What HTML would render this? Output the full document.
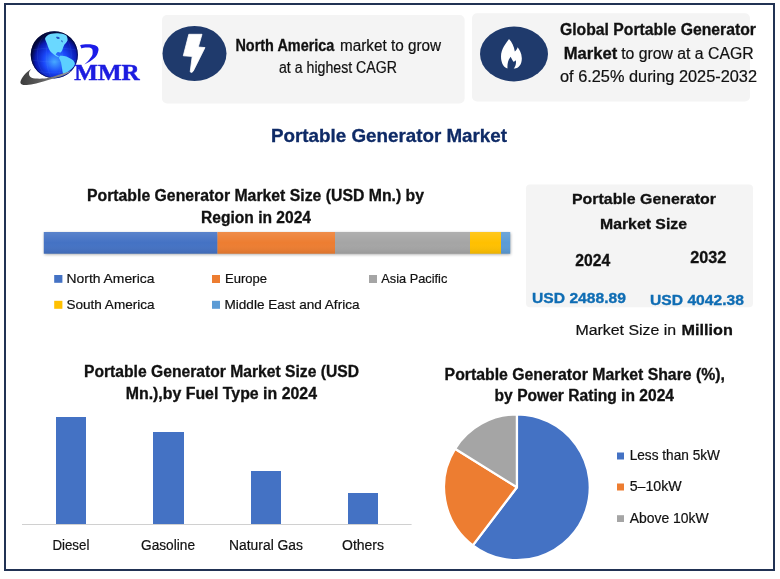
<!DOCTYPE html>
<html><head><meta charset="utf-8">
<style>
html,body{margin:0;padding:0;background:#fff;width:780px;height:579px;overflow:hidden}
svg{display:block;will-change:transform}
text{font-family:"Liberation Sans",sans-serif}
.b{font-weight:bold}
</style></head>
<body>
<svg width="780" height="579" viewBox="0 0 780 579">
<defs>
<radialGradient id="globe" cx="0.55" cy="0.6" r="0.55" fx="0.5" fy="0.65">
<stop offset="0" stop-color="#45a8ff"/>
<stop offset="0.45" stop-color="#1a48fa"/>
<stop offset="0.8" stop-color="#0a1ab0"/>
<stop offset="1" stop-color="#01063a"/>
</radialGradient>
<linearGradient id="swoosh" x1="0" y1="0" x2="1" y2="0">
<stop offset="0" stop-color="#3c3c3c"/>
<stop offset="0.4" stop-color="#5e5e5e"/>
<stop offset="1" stop-color="#a0a0a8"/>
</linearGradient>
<filter id="blur" x="-5%" y="-50%" width="110%" height="200%"><feGaussianBlur stdDeviation="1.5"/></filter>
<linearGradient id="barsheen" x1="0" y1="0" x2="0" y2="1">
<stop offset="0" stop-color="#fff" stop-opacity="0.12"/>
<stop offset="0.5" stop-color="#fff" stop-opacity="0"/>
<stop offset="1" stop-color="#000" stop-opacity="0.08"/>
</linearGradient>
</defs>
<rect x="0" y="0" width="780" height="579" fill="#fff"/>
<!-- outer border -->
<rect x="5" y="4" width="769" height="566" fill="none" stroke="#213254" stroke-width="2"/>

<!-- logo -->
<g>
<circle cx="54.3" cy="54.8" r="23.6" fill="url(#globe)"/>
<g fill="none" stroke="#7ab8ff" stroke-width="0.5" opacity="0.18">
<ellipse cx="54.3" cy="54.8" rx="8" ry="23.4"/>
<ellipse cx="54.3" cy="54.8" rx="17" ry="23.4"/>
<path d="M31.5 50 Q54.3 46 77 50 M31 60 Q54.3 64 77.5 60 M34 70 Q54.3 76 74.5 70"/>
</g>
<circle cx="54.3" cy="54.8" r="23.1" fill="none" stroke="#020838" stroke-width="1" opacity="0.6"/>
<path d="M45 38.7 C 45.5 36.5, 47.5 34.8, 50.3 33.9 C 53.5 33, 57 33, 60 33.4 C 63 33.8, 65.5 34.5, 66.4 35.5 C 67.6 37.5, 67.8 39.5, 67.4 40.8 C 66.5 42.8, 65 43.8, 64.2 45.1 C 63.2 47, 62.8 49, 62.1 50.5 C 61.5 51.8, 60.8 52.6, 60 52.6 C 59 52.4, 58.4 52, 57.8 52.1 C 57 52.6, 56.2 53.6, 55.7 54.8 C 57 55.5, 58.8 56.5, 60 57.4 C 57.5 57, 55 55.8, 53.5 54.2 C 51.5 52.6, 50 51, 49.2 49.4 C 48.2 47.5, 47.6 45.8, 47.1 44 C 46.4 42, 45.4 40.5, 45 38.7 Z" fill="#6ad8ff"/>
<path d="M56 37 C 57.5 36.5, 59 37, 60 38 C 59 39.5, 57 39.5, 56 37 Z M 61.5 40 C 62.5 40.5, 63 41.5, 62.5 42.5 C 61.5 42, 61 41, 61.5 40 Z" fill="#1030b0" opacity="0.8"/>
<path d="M60 55.8 C 62 55.6, 64.5 55.8, 66.4 56.4 C 68.8 57.4, 71 58.6, 72.8 60.1 C 74 61.3, 75 62.8, 74.9 64.4 C 74.3 66, 73 67.4, 71.7 68.7 C 70.2 70, 68.8 71, 67.4 71.9 C 66 72.8, 64.5 73.6, 63.2 74 C 62.6 72.3, 62.3 70.5, 62.1 68.7 C 61.8 66.5, 61.5 64.3, 61 62.2 C 60.5 60.8, 59.6 59.4, 58.9 58 C 59.2 57.2, 59.5 56.4, 60 55.8 Z" fill="#5cd0ff"/>
<path d="M20.4 82 C 21.5 78, 26 72, 31.25 69.1 C 28.5 72, 28 76, 31.7 77.8 C 35 79, 44 79, 48.3 77.8 C 55 76.5, 64 73, 72.5 70.5 C 66 75, 58 77.5, 44.2 81.2 C 36 83.5, 28 85.5, 23.3 85 C 21.5 84.6, 20.2 83.5, 20.4 82 Z" fill="url(#swoosh)"/>
<path d="M80.1 45.2 C 84 43.8, 93 43.5, 96.9 46.2 C 98.5 47.5, 98.8 49.5, 98.4 50.5 C 97.8 54, 96.5 56, 95 57.5 C 92 60.5, 88 62.8, 84.4 64.4 C 87 62, 89 60, 90.2 58.2 C 91.8 56.5, 92.6 55, 92.6 53.4 C 92.8 51.5, 92.6 50, 92.1 49 C 91 48, 89.5 47.6, 88.3 47.6 C 85.5 47.4, 83 47.8, 81.5 48.6 Z" fill="#1c1ce8"/>
<text x="74.3" y="80.3" font-weight="bold" font-size="22.9" fill="#1c1ce0" stroke="#1c1ce0" stroke-width="0.5" textLength="65.4" lengthAdjust="spacingAndGlyphs" style="font-family:'Liberation Serif',serif">MMR</text>
</g>

<!-- card 1 -->
<rect x="162" y="15" width="302.6" height="88.5" rx="5" fill="#f4f4f4"/>
<ellipse cx="194.5" cy="53.5" rx="32" ry="27.5" fill="#1f3a6c"/>
<path d="M188.8 34.3 L202 34.3 L198.3 47 L205 47.6 L193.2 71.2 Q191.5 73.5 190.2 71.8 L192.2 56.4 L183.3 55.8 Z" fill="#fff" stroke="#fff" stroke-width="0.8" stroke-linejoin="round"/>
<text x="235.4" y="50.8" font-size="15.8" fill="#111" class="b" stroke="#111" stroke-width="0.3" textLength="99" lengthAdjust="spacingAndGlyphs">North America</text>
<text stroke="#111" stroke-width="0.2" x="340" y="50.8" font-size="15.8" fill="#111" textLength="101" lengthAdjust="spacingAndGlyphs">market to grow</text>
<text stroke="#111" stroke-width="0.2" x="279" y="72.7" font-size="15.8" fill="#111" textLength="118" lengthAdjust="spacingAndGlyphs">at a highest CAGR</text>

<!-- card 2 -->
<rect x="472" y="13.3" width="278" height="88.2" rx="5" fill="#f4f4f4"/>
<ellipse cx="514" cy="54" rx="34" ry="27.4" fill="#1f3a6c"/>
<path d="M509 38.9 C 506 43, 501 49, 501 56.5 C 501 63, 504 68.4, 508.5 68.6 L 514.5 68.6 C 519 68.4, 522 64, 521.8 58 C 521.6 53, 519.5 50, 517.6 47.3 C 517 49.5, 516 50.5, 514.8 51.5 C 514 46, 512 42, 509 38.9 Z" fill="#fff"/>
<path d="M507.6 69 C 507 65, 508 60, 510.6 56.8 C 511.6 58.8, 512.6 60.4, 513.4 61.8 C 514.4 61.5, 515.2 61, 515.8 60.3 C 516.4 63.5, 515.6 66.5, 513.6 69 Z" fill="#1f3a6c"/>
<text x="560" y="35" font-size="15.8" fill="#111" class="b" stroke="#111" stroke-width="0.3" textLength="196" lengthAdjust="spacingAndGlyphs">Global Portable Generator</text>
<text x="563.8" y="58.8" font-size="15.8" fill="#111" class="b" stroke="#111" stroke-width="0.3" textLength="53.5" lengthAdjust="spacingAndGlyphs">Market</text>
<text stroke="#111" stroke-width="0.2" x="621.2" y="58.8" font-size="15.8" fill="#111" textLength="132.4" lengthAdjust="spacingAndGlyphs">to grow at a CAGR</text>
<text stroke="#111" stroke-width="0.2" x="560" y="82" font-size="15.8" fill="#111" textLength="197" lengthAdjust="spacingAndGlyphs">of 6.25% during 2025-2032</text>

<!-- main title -->
<text x="271" y="141.7" font-size="18.5" fill="#0e2a66" class="b" stroke="#0e2a66" stroke-width="0.3" textLength="236" lengthAdjust="spacingAndGlyphs">Portable Generator Market</text>

<!-- chart 1 -->
<text x="87" y="200.8" font-size="15.6" fill="#111" class="b" stroke="#111" stroke-width="0.3" textLength="337" lengthAdjust="spacingAndGlyphs">Portable Generator Market Size (USD Mn.) by</text>
<text x="201" y="223" font-size="15.6" fill="#111" class="b" stroke="#111" stroke-width="0.3" textLength="110" lengthAdjust="spacingAndGlyphs">Region in 2024</text>
<rect x="44.5" y="233" width="466" height="21.5" fill="#000" opacity="0.35" filter="url(#blur)"/>
<rect x="43.8" y="232" width="173.7" height="21.7" fill="#4472c4"/>
<rect x="217.5" y="232" width="117.5" height="21.7" fill="#ed7d31"/>
<rect x="335" y="232" width="135" height="21.7" fill="#a5a5a5"/>
<rect x="470" y="232" width="31" height="21.7" fill="#ffc000"/>
<rect x="501" y="232" width="9.2" height="21.7" fill="#5b9bd5"/>
<rect x="43.8" y="232" width="466.4" height="21.7" fill="url(#barsheen)"/>
<rect x="54.2" y="275" width="8.2" height="7.8" fill="#4472c4"/>
<text stroke="#111" stroke-width="0.2" x="66.5" y="282.8" font-size="13" fill="#111" textLength="88" lengthAdjust="spacingAndGlyphs">North America</text>
<rect x="212" y="275" width="8" height="8" fill="#ed7d31"/>
<text stroke="#111" stroke-width="0.2" x="225" y="283" font-size="13" fill="#111" textLength="42" lengthAdjust="spacingAndGlyphs">Europe</text>
<rect x="369" y="275" width="8" height="8" fill="#a5a5a5"/>
<text stroke="#111" stroke-width="0.2" x="381.3" y="283" font-size="13" fill="#111" textLength="66" lengthAdjust="spacingAndGlyphs">Asia Pacific</text>
<rect x="54.2" y="300.8" width="8.2" height="8" fill="#ffc000"/>
<text stroke="#111" stroke-width="0.2" x="66.5" y="308.9" font-size="13" fill="#111" textLength="88" lengthAdjust="spacingAndGlyphs">South America</text>
<rect x="212" y="300.8" width="8" height="8" fill="#5b9bd5"/>
<text stroke="#111" stroke-width="0.2" x="224.5" y="308.9" font-size="13" fill="#111" textLength="135" lengthAdjust="spacingAndGlyphs">Middle East and Africa</text>

<!-- market size card -->
<rect x="526" y="184.6" width="227" height="122.7" rx="4" fill="#f4f4f4"/>
<text x="572" y="204" font-size="15.5" fill="#111" class="b" stroke="#111" stroke-width="0.3" textLength="144" lengthAdjust="spacingAndGlyphs">Portable Generator</text>
<text x="600" y="229" font-size="15.5" fill="#111" class="b" stroke="#111" stroke-width="0.3" textLength="87" lengthAdjust="spacingAndGlyphs">Market Size</text>
<text x="575.2" y="265.7" font-size="16.2" fill="#111" class="b" stroke="#111" stroke-width="0.3" textLength="35" lengthAdjust="spacingAndGlyphs">2024</text>
<text x="690.2" y="262.7" font-size="16.2" fill="#111" class="b" stroke="#111" stroke-width="0.3" textLength="36" lengthAdjust="spacingAndGlyphs">2032</text>
<text x="532" y="303.3" font-size="15.5" fill="#0f6db4" stroke="#0f6db4" stroke-width="0.35" class="b" textLength="94" lengthAdjust="spacingAndGlyphs">USD 2488.89</text>
<text x="650" y="304.5" font-size="15.5" fill="#0f6db4" stroke="#0f6db4" stroke-width="0.35" class="b" textLength="94" lengthAdjust="spacingAndGlyphs">USD 4042.38</text>
<text stroke="#111" stroke-width="0.2" x="575.4" y="334.7" font-size="15.5" fill="#111" textLength="100.8" lengthAdjust="spacingAndGlyphs">Market Size in</text>
<text x="681.5" y="334.7" font-size="15.5" fill="#111" class="b" stroke="#111" stroke-width="0.3" textLength="51.3" lengthAdjust="spacingAndGlyphs">Million</text>

<!-- fuel chart -->
<text x="84" y="377.1" font-size="15.6" fill="#111" class="b" stroke="#111" stroke-width="0.3" textLength="275" lengthAdjust="spacingAndGlyphs">Portable Generator Market Size (USD</text>
<text x="125.7" y="399.1" font-size="15.6" fill="#111" class="b" stroke="#111" stroke-width="0.3" textLength="191.3" lengthAdjust="spacingAndGlyphs">Mn.),by Fuel Type in 2024</text>
<line x1="22" y1="524.5" x2="411.6" y2="524.5" stroke="#d0d0d0" stroke-width="1"/>
<rect x="56" y="417" width="30" height="107" fill="#4472c4"/>
<rect x="153" y="432" width="31" height="92" fill="#4472c4"/>
<rect x="251" y="471" width="30" height="53" fill="#4472c4"/>
<rect x="348" y="493" width="30" height="31" fill="#4472c4"/>
<text stroke="#111" stroke-width="0.2" x="52.4" y="550" font-size="14" fill="#111" textLength="37" lengthAdjust="spacingAndGlyphs">Diesel</text>
<text stroke="#111" stroke-width="0.2" x="141" y="550" font-size="14" fill="#111" textLength="54" lengthAdjust="spacingAndGlyphs">Gasoline</text>
<text stroke="#111" stroke-width="0.2" x="229" y="550" font-size="14" fill="#111" textLength="74" lengthAdjust="spacingAndGlyphs">Natural Gas</text>
<text stroke="#111" stroke-width="0.2" x="342" y="550" font-size="14" fill="#111" textLength="42" lengthAdjust="spacingAndGlyphs">Others</text>

<!-- pie chart -->
<text x="444.6" y="380" font-size="15.6" fill="#111" class="b" stroke="#111" stroke-width="0.3" textLength="280.4" lengthAdjust="spacingAndGlyphs">Portable Generator Market Share (%),</text>
<text x="494.6" y="401" font-size="15.6" fill="#111" class="b" stroke="#111" stroke-width="0.3" textLength="179.4" lengthAdjust="spacingAndGlyphs">by Power Rating in 2024</text>
<g stroke="#fff" stroke-width="2.3" stroke-linejoin="round">
<path id="pblue" d="M516.9 487.3 L516.90 414.40 A72.9 72.9 0 1 1 472.82 545.37 Z" fill="#4472c4"/>
<path id="porange" d="M516.9 487.3 L472.82 545.37 A72.9 72.9 0 0 1 455.01 448.78 Z" fill="#ed7d31"/>
<path id="pgray" d="M516.9 487.3 L455.01 448.78 A72.9 72.9 0 0 1 516.90 414.40 Z" fill="#a5a5a5"/>
</g>
<rect x="617" y="452.5" width="7" height="7" fill="#4472c4"/>
<text stroke="#111" stroke-width="0.2" x="629.7" y="459.7" font-size="14" fill="#111" textLength="90.3" lengthAdjust="spacingAndGlyphs">Less than 5kW</text>
<rect x="617" y="483.5" width="7" height="7" fill="#ed7d31"/>
<text stroke="#111" stroke-width="0.2" x="629.7" y="490.7" font-size="14" fill="#111" textLength="52" lengthAdjust="spacingAndGlyphs">5–10kW</text>
<rect x="617" y="515.2" width="7" height="6.8" fill="#a5a5a5"/>
<text stroke="#111" stroke-width="0.2" x="629.7" y="523.2" font-size="14" fill="#111" textLength="79" lengthAdjust="spacingAndGlyphs">Above 10kW</text>
</svg>
</body></html>
